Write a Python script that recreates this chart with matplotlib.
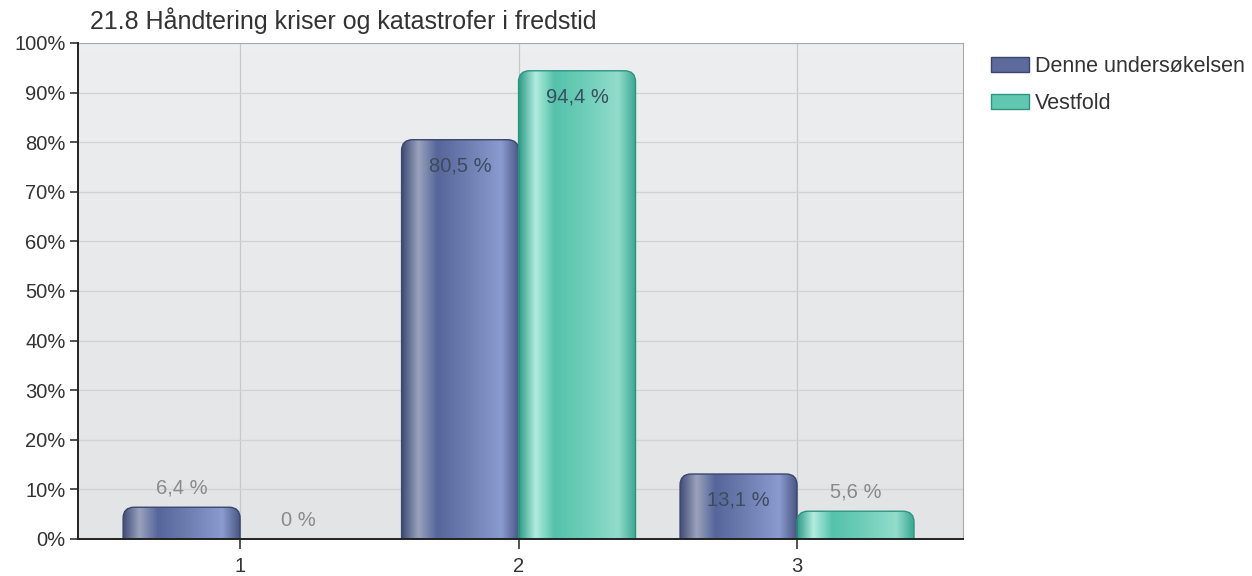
import numpy as np
import matplotlib
matplotlib.use("Agg")
import matplotlib.pyplot as plt
from matplotlib.patches import FancyBboxPatch, Patch
from matplotlib.colors import LinearSegmentedColormap

plt.rcParams['font.family'] = ['Liberation Sans', 'DejaVu Sans']

# data
title = "21.8 Håndtering kriser og katastrofer i fredstid"
categories = ["1", "2", "3"]
series_names = ["Denne undersøkelsen", "Vestfold"]
denne = [6.4, 80.5, 13.1]
vestfold = [0, 94.4, 5.6]

# horizontal shading of the bars (edge -> highlight -> body -> edge)
blue_stops = ["#414d78", "#9aa2bc", "#56669a", "#6d7db0", "#8b9bcf", "#4b5885"]
teal_stops = ["#2f9c87", "#b2ece0", "#55c2ab", "#6ccdb8", "#93dccb", "#3aa892"]
edge_cols = ["#3a4570", "#2e9480"]
legend_cols = ["#5c6b9c", "#62c7b1"]

fig = plt.figure(figsize=(12.52, 5.76), dpi=100)
ax = fig.add_axes([78 / 1252, 1 - 539 / 576, (963 - 78) / 1252, (539 - 43) / 576])

x = np.arange(1, len(categories) + 1)
w = 0.42
xlim = (0.418, 3.596)

# faint vertical gradient of the plot background
bg = np.linspace(0, 1, 64).reshape(-1, 1)
ax.imshow(bg, cmap=LinearSegmentedColormap.from_list("bg", ["#e2e4e6", "#eceef0"]),
          extent=(xlim[0], xlim[1], 0, 100), aspect="auto", origin="lower", zorder=0)

# px per unit, used for rounded corners
px_x = 278.5
px_y = 4.96
r_px = 11
rx = r_px / px_x
aspect = (r_px / px_y) / rx


def fmt(v):
    if v == int(v):
        return "%d %%" % v
    return ("%.1f" % v).replace(".", ",") + " %"


for k, (vals, stops) in enumerate([(denne, blue_stops), (vestfold, teal_stops)]):
    cmap = LinearSegmentedColormap.from_list("g%d" % k,
                                             list(zip([0, 0.14, 0.3, 0.55, 0.85, 1.0], stops)))
    grad = np.linspace(0, 1, 256).reshape(1, -1)
    for xi, v in zip(x, vals):
        x0 = xi - w + k * w
        if v > 0:
            patch = FancyBboxPatch((x0, -5), w, v + 5,
                                   boxstyle="round,pad=0,rounding_size=%f" % rx,
                                   mutation_aspect=aspect,
                                   facecolor="none", edgecolor=edge_cols[k], lw=1.0, zorder=3)
            ax.add_patch(patch)
            im = ax.imshow(grad, cmap=cmap, extent=(x0, x0 + w, -5, v), aspect="auto",
                           interpolation="bicubic", zorder=2)
            im.set_clip_path(patch)

        if v >= 10:
            ax.text(x0 + w / 2, v - 5.3, fmt(v), ha="center", va="center",
                    fontsize=14.5, color="#3b4c5e", zorder=4)
        else:
            ax.text(x0 + w / 2, v + 3.8, fmt(v), ha="center", va="center",
                    fontsize=14.5, color="#8a8a8a", zorder=4)

ax.set_xlim(*xlim)
ax.set_ylim(0, 100)

ax.set_yticks(np.arange(0, 101, 10))
ax.set_yticklabels(["%d%%" % t for t in range(0, 101, 10)])
ax.set_xticks(x)
ax.set_xticklabels(categories)
ax.tick_params(axis="both", labelsize=14.5, colors="#333333", length=6, width=1.2)
ax.tick_params(axis="y", direction="out", pad=3)
ax.tick_params(axis="x", direction="out", pad=6, length=7)

ax.yaxis.grid(True, color="#d0d2d4", lw=0.9)
ax.xaxis.grid(True, color="#c6c8ca", lw=0.9)
ax.set_axisbelow(True)
for gl in ax.get_xgridlines() + ax.get_ygridlines():
    gl.set_zorder(1)

for s in ["top", "right"]:
    ax.spines[s].set_color("#a8aaac")
    ax.spines[s].set_linewidth(0.8)
for s in ["left", "bottom"]:
    ax.spines[s].set_color("#222222")
    ax.spines[s].set_linewidth(1.4)
    ax.spines[s].set_zorder(5)

fig.text(90 / 1252, 1 - 21 / 576, title, fontsize=18, color="#333333", va="center", ha="left")

handles = [Patch(facecolor=c, edgecolor=e, lw=1) for c, e in zip(legend_cols, edge_cols)]
fig.legend(handles, series_names, loc="upper left", bbox_to_anchor=(991 / 1252, 1 - 56 / 576),
           frameon=False, fontsize=15.5, handlelength=1.75, handleheight=0.7,
           handletextpad=0.3, labelspacing=0.75, borderaxespad=0, borderpad=0,
           labelcolor="#333333")

fig.savefig("out.png", dpi=100)
